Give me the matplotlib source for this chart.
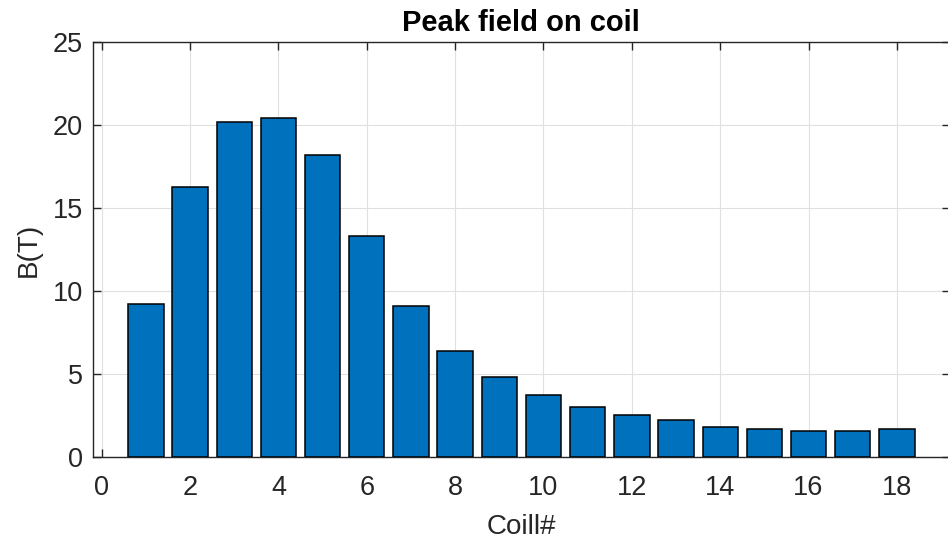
import matplotlib.pyplot as plt

plt.rcParams['font.family'] = ['Liberation Sans', 'DejaVu Sans']

# peak field per coil
coils = list(range(1, 19))
peak_field = [9.25, 16.25, 20.2, 20.4, 18.2, 13.3, 9.1, 6.4, 4.85,
              3.75, 3.0, 2.55, 2.25, 1.8, 1.7, 1.6, 1.6, 1.7]
x_ticks = list(range(0, 20, 2))
y_ticks = [0, 5, 10, 15, 20, 25]

fig = plt.figure(figsize=(9.48, 5.39), dpi=100)
ax = fig.add_axes([0.098, 0.152, 0.904, 0.770])

ax.bar(coils, peak_field, width=0.8, color='#0072BD', edgecolor='black',
       linewidth=1.1, zorder=3)

ax.set_xlim(-0.2, 19.2)
ax.set_ylim(0, 25)
ax.set_xticks(x_ticks)
ax.set_yticks(y_ticks)

ax.grid(True, color='#e0e0e0', linewidth=0.8, zorder=0)
ax.set_axisbelow(True)

for s in ax.spines.values():
    s.set_color('#262626')
    s.set_linewidth(1.0)

ax.tick_params(direction='in', length=6, width=1.0, color='#262626',
               labelsize=19.5, labelcolor='#262626', top=True, right=True)
ax.tick_params(axis='x', pad=13)
ax.tick_params(axis='y', pad=7)

ax.set_title('Peak field on coil', fontsize=21, fontweight='bold', pad=8)
ax.set_xlabel('Coill#', fontsize=20, color='#262626', labelpad=9)
ax.set_ylabel('B(T)', fontsize=20, color='#262626', labelpad=8)

fig.savefig('out.png', dpi=100)
